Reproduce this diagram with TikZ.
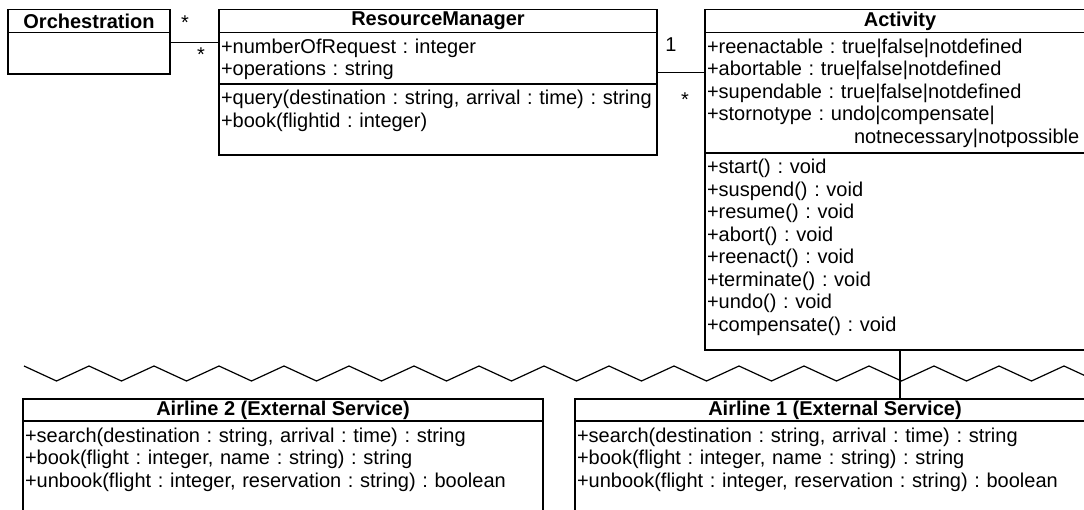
\documentclass[tikz,border=0pt]{standalone}
\usepackage{fontspec}
\setmainfont{Liberation Sans}
\usetikzlibrary{positioning}

\newcommand{\umlfont}{\frenchspacing\fontsize{20}{22.5}\selectfont}

\begin{document}
\begin{tikzpicture}[
    x=1pt, y=-1pt,
    line width=1.2pt,
    classhead/.style={draw, font=\umlfont\bfseries, minimum height=23pt,
                 inner sep=0pt, outer sep=0pt, anchor=north west},
    classpart/.style={draw, font=\umlfont, align=left, inner xsep=2pt,
                 inner ysep=0pt, outer sep=0pt, text height=21pt},
    mult/.style={font=\umlfont, inner sep=0pt},
    assoc/.style={line width=1.2pt},
]
    \clip (0,0) rectangle (1084,510);

    % classes of the orchestration side
    \node[classhead, minimum width=162pt] (orchhead) at (8,9.5) {Orchestration};
    \node[classpart, text width=158pt, text depth=20.5pt, below=0pt of orchhead] (orchbody) {};

    \node[classhead, minimum width=438pt] (rmhead) at (219,9.5) {ResourceManager};
    \node[classpart, text width=434pt, text depth=30.5pt, below=0pt of rmhead] (rmattr)
        {+numberOfRequest : integer\\+operations : string};
    \node[classpart, text width=434pt, text depth=50pt, below=0pt of rmattr] (rmops)
        {+query(destination : string, arrival : time) : string\\+book(flightid : integer)};

    \node[classhead, minimum width=390pt] (acthead) at (705,9.5) {Activity};
    \node[classpart, text width=386pt, text depth=99.5pt, below=0pt of acthead] (actattr)
        {+reenactable : true|false|notdefined\\
         +abortable : true|false|notdefined\\
         +supendable : true|false|notdefined\\
         +stornotype : undo|compensate|\\
         \hspace*{147pt}notnecessary|notpossible};
    \node[classpart, text width=386pt, text depth=176pt, below=0pt of actattr] (actops)
        {+start() : void\\+suspend() : void\\+resume() : void\\+abort() : void\\
         +reenact() : void\\+terminate() : void\\+undo() : void\\+compensate() : void};

    % external services
    \node[classhead, minimum width=520pt, minimum height=22pt] (air2head) at (23,399)
        {Airline 2 (External Service)};
    \node[classpart, text width=516pt, text depth=98pt, below=0pt of air2head] (air2ops)
        {+search(destination : string, arrival : time) : string\\
         +book(flight : integer, name : string) : string\\
         +unbook(flight : integer, reservation : string) : boolean};

    \node[classhead, minimum width=520pt, minimum height=22pt] (air1head) at (575,399)
        {Airline 1 (External Service)};
    \node[classpart, text width=516pt, text depth=98pt, below=0pt of air1head] (air1ops)
        {+search(destination : string, arrival : time) : string\\
         +book(flight : integer, name : string) : string\\
         +unbook(flight : integer, reservation : string) : boolean};

    % associations
    \draw[assoc] ([yshift=-10pt]orchbody.north east) -- ([yshift=-10pt]orchbody.north east -| rmattr.west);
    \node[mult] (m1) at (185,22.5) {*};
    \node[mult] (m2) at (201,54.5) {*};

    \draw[assoc] ([yshift=-40pt]rmattr.north east) -- ([yshift=-40pt]rmattr.north east -| actattr.west);
    \node[mult] (m3) at (671,44.5) {1};
    \node[mult] (m4) at (685,100) {*};

    \draw[assoc] (actops.south) -- (actops.south |- air1head.north);

    % boundary to the external services
    \draw[line width=1.2pt] (24,366) \foreach \k in {0,...,16} {
        -- ({56.5+65*\k},381) -- ({89+65*\k},366) };
\end{tikzpicture}
\end{document}
